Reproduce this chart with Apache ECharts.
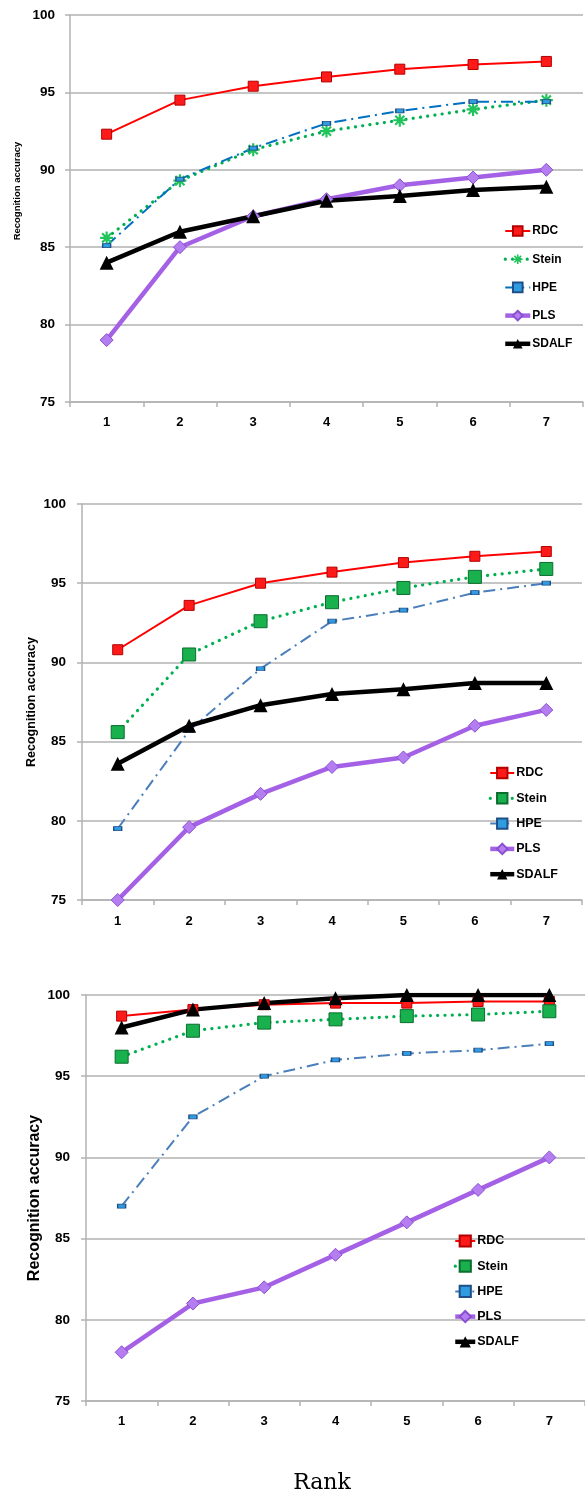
<!DOCTYPE html>
<html>
<head>
<meta charset="utf-8">
<script src="https://cdn.jsdelivr.net/npm/echarts@6/dist/echarts.min.js"></script>
<style>
html,body{margin:0;padding:0;background:#fff;}
#wrap{position:relative;width:585px;height:1496px;overflow:hidden;}
.c{position:absolute;left:0;width:585px;}
</style>
</head>
<body>
<div id="wrap">
<div id="c1" class="c" style="top:0;height:470px;"></div>
<div id="c2" class="c" style="top:470px;height:480px;"></div>
<div id="c3" class="c" style="top:950px;height:546px;"></div>
</div>
<script>
// ---- data ----
const ranks = ['1','2','3','4','5','6','7'];
const yTicks = [75, 80, 85, 90, 95, 100];
const seriesNames = ['RDC','Stein','HPE','PLS','SDALF'];

const c1Rdc   = [92.3, 94.5, 95.4, 96.0, 96.5, 96.8, 97.0];
const c1Stein = [85.6, 89.3, 91.3, 92.5, 93.2, 93.9, 94.5];
const c1Hpe   = [85.1, 89.4, 91.4, 93.0, 93.8, 94.4, 94.4];
const c1Pls   = [79.0, 85.0, 87.0, 88.1, 89.0, 89.5, 90.0];
const c1Sdalf = [84.0, 86.0, 87.0, 88.0, 88.3, 88.7, 88.9];

const c2Rdc   = [90.8, 93.6, 95.0, 95.7, 96.3, 96.7, 97.0];
const c2Stein = [85.6, 90.5, 92.6, 93.8, 94.7, 95.4, 95.9];
const c2Hpe   = [79.5, 85.7, 89.6, 92.6, 93.3, 94.4, 95.0];
const c2Pls   = [75.0, 79.6, 81.7, 83.4, 84.0, 86.0, 87.0];
const c2Sdalf = [83.6, 86.0, 87.3, 88.0, 88.3, 88.7, 88.7];

const c3Rdc   = [98.7, 99.1, 99.4, 99.5, 99.5, 99.6, 99.6];
const c3Stein = [96.2, 97.8, 98.3, 98.5, 98.7, 98.8, 99.0];
const c3Hpe   = [87.0, 92.5, 95.0, 96.0, 96.4, 96.6, 97.0];
const c3Pls   = [78.0, 81.0, 82.0, 84.0, 86.0, 88.0, 90.0];
const c3Sdalf = [98.0, 99.1, 99.5, 99.8, 100.0, 100.0, 100.0];

const yAxisName = 'Recognition accuracy';
const xAxisName = 'Rank';

// ---- styles ----
const GRID_COL = '#b2b2b2';
const TICK_FONT = 'Liberation Sans, Arial, sans-serif';
const ASTERISK = 'path://M-1,-6L1,-6L1,6L-1,6ZM-6,-1L6,-1L6,1L-6,1ZM-4.9,-3.5L-3.5,-4.9L4.9,3.5L3.5,4.9ZM3.5,-4.9L4.9,-3.5L-3.5,4.9L-4.9,3.5Z';
const FLATRECT = 'path://M0,0L10,0L10,4.5L0,4.5Z';

function mkSeries(data, steinStar, hpeColor) {
  const [rdc, stein, hpe, pls, sdalf] = data;
  return [
    {name:'RDC', type:'line', data:rdc, symbol:'rect', symbolSize:10,
     lineStyle:{color:'#ff0000', width:2},
     itemStyle:{color:'#ff1a1a', borderColor:'#b30000', borderWidth:1}},
    steinStar ?
    {name:'Stein', type:'line', data:stein, symbol:ASTERISK, symbolSize:13,
     lineStyle:{color:'#00b050', width:3.2, type:[0.1,7.2], cap:'round'},
     itemStyle:{color:'#21c45a', borderWidth:0}} :
    {name:'Stein', type:'line', data:stein, symbol:'rect', symbolSize:13,
     lineStyle:{color:'#00b050', width:3.2, type:[0.1,7.2], cap:'round'},
     itemStyle:{color:'#19b04e', borderColor:'#0a6e2e', borderWidth:1}},
    {name:'HPE', type:'line', data:hpe, symbol:FLATRECT, symbolSize:[8,4],
     lineStyle:{color:hpeColor, width:2, type:[12,5,2,5]},
     itemStyle:{color:'#2f9be0', borderColor:'#1f4f86', borderWidth:1}},
    {name:'PLS', type:'line', data:pls, symbol:'diamond', symbolSize:13,
     lineStyle:{color:'#a461e6', width:4.5},
     itemStyle:{color:'#b57ef0', borderColor:'#8a4fd0', borderWidth:1}},
    {name:'SDALF', type:'line', data:sdalf, symbol:'triangle', symbolSize:14,
     lineStyle:{color:'#000000', width:4.5},
     itemStyle:{color:'#000000'}}
  ].map(s => Object.assign(s, {animation:false, showAllSymbol:true}));
}

function mkOption(cfg) {
  return {
    animation:false,
    grid:{left:cfg.gl, top:cfg.gt, right:cfg.gr, height:cfg.gh, containLabel:false},
    xAxis:{type:'category', data:ranks, boundaryGap:true,
      axisLine:{show:true, lineStyle:{color:GRID_COL, width:1.5}},
      axisTick:{show:true, length:5, lineStyle:{color:GRID_COL, width:1.5}},
      axisLabel:{margin:cfg.xm, fontFamily:TICK_FONT, fontWeight:'bold', fontSize:13, color:'#000'},
      splitLine:{show:false}},
    yAxis:{type:'value', min:yTicks[0], max:yTicks[yTicks.length-1], interval:5,
      axisLine:{show:true, lineStyle:{color:GRID_COL, width:1.5}},
      axisTick:{show:true, length:5, lineStyle:{color:GRID_COL, width:1.5}},
      axisLabel:{margin:cfg.ym, fontFamily:TICK_FONT, fontWeight:'bold', fontSize:13.5, color:'#000'},
      splitLine:{show:true, lineStyle:{color:GRID_COL, width:1.5}}},
    legend:{orient:'vertical', left:cfg.lx, top:cfg.ly, padding:0, itemWidth:cfg.lw, itemHeight:cfg.lh,
      itemGap:cfg.lg, data:seriesNames, selectedMode:false, symbolKeepAspect:true,
      lineStyle:{width:'inherit'},
      textStyle:{fontFamily:TICK_FONT, fontWeight:'bold', fontSize:cfg.lf, color:'#000', padding:[0,0,0,-3], lineHeight:cfg.lh}},
    graphic:[
      {type:'text', x:cfg.nx, y:cfg.ny, rotation:Math.PI/2,
       style:{text:yAxisName, fontFamily:TICK_FONT, fontWeight:'bold', fontSize:cfg.nf, fill:'#000',
              textAlign:'center', textVerticalAlign:'middle'}}
    ].concat(cfg.extra || []),
    series: mkSeries(cfg.data, cfg.star, cfg.hpeColor)
  };
}

const ch1 = echarts.init(document.getElementById('c1'), null, {renderer:'canvas'});
ch1.setOption(mkOption({gl:70, gt:15, gr:2, gh:387, xm:14, ym:15,
  lx:503, ly:225, lw:25, lh:12, lg:16.2, lf:12,
  nx:17, ny:191, nf:9.5,
  data:[c1Rdc,c1Stein,c1Hpe,c1Pls,c1Sdalf], star:true, hpeColor:'#0070c0'}));

const ch2 = echarts.init(document.getElementById('c2'), null, {renderer:'canvas'});
ch2.setOption(mkOption({gl:82, gt:34, gr:3, gh:396, xm:15, ym:16,
  lx:488, ly:296.5, lw:24, lh:13, lg:12.3, lf:12.5,
  nx:32, ny:232, nf:12.5,
  data:[c2Rdc,c2Stein,c2Hpe,c2Pls,c2Sdalf], star:false, hpeColor:'#4a7ebb'}));

const ch3 = echarts.init(document.getElementById('c3'), null, {renderer:'canvas'});
ch3.setOption(mkOption({gl:86, gt:45, gr:-13, gh:406, xm:14, ym:16,
  lx:453, ly:284, lw:20, lh:14, lg:11.2, lf:12.5,
  nx:35, ny:248, nf:16,
  data:[c3Rdc,c3Stein,c3Hpe,c3Pls,c3Sdalf], star:false, hpeColor:'#4a7ebb',
  extra:[{type:'text', x:322, y:533,
    style:{text:xAxisName, fontFamily:'DejaVu Serif, serif', fontSize:22, fill:'#000',
           textAlign:'center', textVerticalAlign:'middle'}}]}));
</script>
</body>
</html>
